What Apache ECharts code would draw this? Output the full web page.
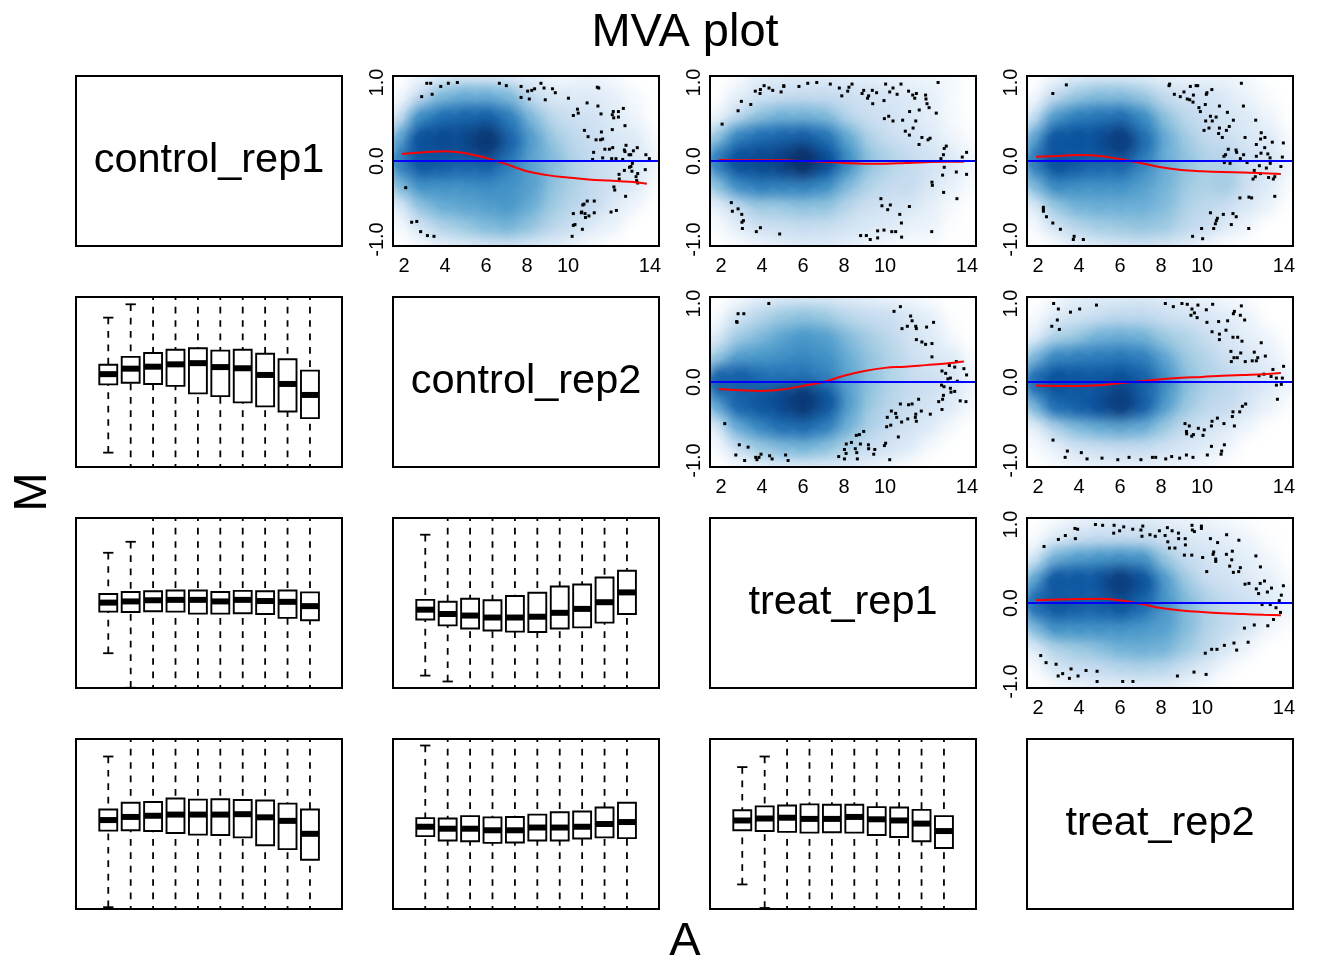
<!DOCTYPE html>
<html><head><meta charset="utf-8">
<style>html,body{margin:0;padding:0;background:#fff}#c{width:1344px;height:960px}</style>
<script src="https://cdn.jsdelivr.net/npm/echarts@6/dist/echarts.min.js"></script>
</head><body><div id="c"></div>
<script>
const sampleNames = ['control_rep1','control_rep2','treat_rep1','treat_rep2'];
const xTicks = [2,4,6,8,10,14];
const yTicks = [-1,0,1];
const densityA = [2,3,4,5,6,7,8,9,10,11,12,13,14];
const densityM = [1,0.75,0.5,0.25,0,-0.25,-0.5,-0.75,-1];
const curveA = [1.9,3,4,5,6,7,8,9,10,11,12,13,13.85];
const boxPositions = [1,2,3,4,5,6,7,8,9,10];
const blues = ['#FFFFFF','#DEEBF7','#C6DBEF','#9ECAE1','#6BAED6','#4292C6','#2171B5','#08519C','#08306B'];

// density levels (0..8), rows = densityM, columns = densityA
const density12 = [
[0,.5,1,1.2,1.2,1,.8,.5,.3,.6,.3,0,0],
[.3,2,3.5,4,4,3.5,2,1.2,1,1,.8,.3,0],
[1.5,5,6,6.3,6.5,5.5,3.5,2.2,1.7,1.5,1,.5,0],
[4,7,7.2,7.2,7.8,6.3,4.5,3,2.2,1.8,1.2,1,.2],
[5.5,6.8,6.5,6.3,6.5,5.5,4.2,3.5,2.5,2,1.5,1.2,.5],
[3.5,5,5,5,5.2,5,4.5,3.3,2.6,2,1.5,1,.2],
[1,3.2,4,4.3,4.5,4.8,4,3,2.3,2,1,.5,0],
[.3,1.5,2.5,3,3.5,3.8,3.2,2.3,1.8,1,.6,0,0],
[0,.3,.8,1,1.3,1.5,1.3,1,.6,.2,0,0,0]];
const density13 = [
[0,.2,.8,1,1,1,.8,.8,.7,.6,.5,.3,0],
[0,.8,1.5,1.8,2,2,1.8,1.5,1.3,1,.8,.2,0],
[.5,2,3.2,3.8,3.8,3.5,2.3,1.8,1.5,1.2,.8,.3,0],
[3,5.2,6,6.3,6.5,5.8,4,2.5,1.8,1.5,1,.5,.1],
[5.5,7,7.2,7.4,8,7,5,3.2,2.5,2,1.5,1,.4],
[3.2,5,5.6,5.5,5.5,5,3.5,2.5,2,2,1.2,.7,.2],
[.8,2,3,3,3.3,3.2,2.3,1.7,1.5,1.3,.8,.3,0],
[.2,.9,1.6,1.8,2,1.9,1.5,1.2,1,.7,.6,.1,0],
[0,.2,.5,.8,1,1,.8,.5,.3,.2,.2,0,0]];
const density14 = [
[0,.5,1,1.2,1.2,1,.8,.5,.6,.6,.3,0,0],
[.3,2,3,3.5,3.5,3,2,1.5,1.5,1,.6,.2,0],
[1.5,4.5,5.5,5.8,6,5,3.2,2.2,1.8,1.4,1,.5,0],
[4,6.8,7,7,7.6,6,4,2.8,2,1.7,1.2,1,.2],
[5.5,7,6.5,6.3,6.3,5.2,4,3.2,2.5,2.3,1.6,1.2,.5],
[3.5,5.2,5,5,5,4.5,3.8,3,2.5,2.8,1.6,1,.2],
[1,3,3.8,4,4,4,3.5,2.6,2.2,1.8,1.2,.6,0],
[.3,1.5,2.3,2.8,3,3.2,3,2.2,1.8,1,.5,0,0],
[0,.2,.8,1,1.3,1.5,1.4,1,.5,.1,0,0,0]];
const density23 = [
[0,.3,.8,1,1.2,1.2,1,.8,.6,.4,.2,0,0],
[.2,1.5,2.3,3,3.3,3,2.3,2,1.8,1.2,.8,.1,0],
[1,2.8,3.5,4.2,4.8,4.5,3.5,2.8,2.2,1.5,1,.3,0],
[3,4.5,4.8,5,5.3,5,4,3.2,2.5,1.8,1.3,1,.2],
[6.5,6.6,6,6,6,5.5,4.3,3.3,2.5,2,1.7,1.2,.5],
[4,6.3,6.8,7.2,7.8,6.8,4.5,3,2.3,1.8,1.4,1,.3],
[1,4,5.2,6,6.2,5.5,3.8,2.6,2,1.5,1,.3,0],
[.3,1.8,3,3.5,3.8,3.3,2.5,1.8,1.5,1,.3,0,0],
[0,.3,.7,1,1,1.2,1,.8,.4,.1,0,0,0]];
const density24 = [
[0,.3,.8,1,1,1.2,1,.7,.6,.4,.2,0,0],
[.2,1,1.5,1.8,2.2,2.2,1.8,1.5,1.3,.9,.6,0,0],
[.8,2.5,3,3.8,4,3.8,3,2.5,1.8,1.3,.8,.5,0],
[3.5,5.2,5.5,5.6,5.8,5.5,4.2,3,2.4,1.6,1.3,.8,.2],
[6,7,6.8,6.8,7,6.5,5,3.4,2.6,2.2,1.6,1,.5],
[3.5,6,6.5,7,7.6,6.5,4.5,3,2.2,2,1.2,.6,.1],
[.8,2.5,3.5,4,4.3,4,3,2,1.5,1,.5,0,0],
[.2,.8,1.5,1.8,2,2,1.6,1.3,.9,.5,0,0,0],
[0,.2,.5,.7,.8,.8,.6,.5,.3,.1,0,0,0]];
const density34 = [
[0,.2,.6,.8,1,1,.8,.6,.5,.3,.1,0,0],
[.2,1,1.6,2,2,2,1.6,1.2,1,.8,.5,.1,0],
[1.2,3.8,4.5,4.8,5,4.8,3,2,1.5,1.2,.8,.4,0],
[4,6.8,6.8,6.8,7.6,6.8,4.5,2.8,1.8,1.5,1,.7,.2],
[6,6.8,6.5,6.5,6.8,6,4.8,3.5,2.6,2,1.6,1,.5],
[3.5,5,5,5,5,4.8,4.5,3.5,2.5,2,1.2,.5,.1],
[1,2.5,3,3.3,3.8,4,3.8,3,2.2,1.2,.5,0,0],
[.2,1.2,1.8,2,2.3,2.5,2.3,1.6,1,.3,0,0,0],
[0,.2,.5,.8,.8,.8,.8,.5,.2,0,0,0,0]];

// outlying points [A, M]
const dots12 = [[2.86,.82],[3.11,.99],[3.3,.99],[3.37,.85],[3.79,.95],[4.16,.99],[4.6,1],[6.65,.99],[6.99,.96],[7.71,.95],[7.71,.81],[8.03,.89],[8.23,.9],[8.37,.92],[8.11,.79],[8.68,.99],[8.83,.93],[8.89,.78],[9.24,.92],[9.38,.87],[10.02,.8],[11.43,.94],[11.5,.93],[10.93,.74],[10.46,.66],[10.5,.61],[10.26,.58],[11.46,.7],[11.61,.6],[12.7,.67],[12.46,.63],[12.21,.63],[12.16,.59],[12.23,.55],[12.46,.56],[12.78,.45],[12.16,.4],[10.8,.39],[10.98,.31],[11.63,.37],[11.37,.27],[11.59,.27],[11.69,.28],[12.83,.2],[12.75,.14],[12.78,.12],[11.8,.15],[12.02,.15],[12.18,.17],[11.25,.11],[11.2,.02],[11.69,.04],[12.13,.03],[12.34,.03],[12.67,.02],[12.98,.08],[13.19,.13],[13.38,.17],[13.06,.08],[13.8,.08],[13.97,.03],[13.14,-.03],[13.07,-.07],[12.75,-.12],[13,-.08],[13.77,-.11],[13.12,-.13],[12.49,-.17],[13.4,-.16],[12.5,-.23],[13.32,-.2],[13.35,-.25],[13.4,-.28],[12.24,-.33],[12.28,-.37],[12.81,-.45],[2.08,-.34],[2.37,-.78],[2.62,-.77],[2.81,-.9],[3.14,-.95],[3.46,-.96],[10.2,-.96],[10.26,-.82],[10.34,-.81],[10.26,-.67],[10.67,-.65],[10.72,-.56],[10.78,-.55],[10.94,-.51],[11.28,-.51],[10.65,-.66],[10.83,-.67],[10.85,-.72],[11.02,-.7],[11.28,-.66],[12.1,-.65],[12.36,-.63],[10.7,-.87]];
const dots13 = [[2.05,.47],[2.83,.64],[2.99,.76],[3.45,.72],[3.67,.89],[3.9,.86],[4.1,.96],[3.92,.91],[4.34,.93],[4.52,.9],[4.93,.88],[5.06,.96],[5.06,.95],[5.8,.95],[6.23,.99],[6.67,1],[7.33,.98],[7.77,.93],[7.89,.83],[8.18,.89],[8.24,.94],[8.39,.98],[8.88,.86],[8.96,.9],[9.2,.83],[9.15,.8],[9.38,.9],[9.59,.87],[9.4,.73],[9.95,.77],[10.03,.98],[10.23,.88],[10.39,.93],[10.59,.85],[10.78,.98],[11.15,.89],[11.35,.84],[11.45,.8],[11.53,.86],[11.98,.84],[12,.79],[12.05,.73],[12.15,.68],[12.59,1],[11.67,.65],[11.2,.63],[12.5,.61],[9.97,.54],[10.18,.57],[10.39,.51],[10.86,.52],[11.5,.51],[11.37,.42],[10.99,.38],[11.19,.33],[11.8,.3],[12.1,.27],[12.2,.29],[11.66,.21],[12.99,.19],[12.89,.16],[13.98,.11],[12.85,.08],[12.73,.03],[13.77,.05],[12.89,-.08],[12.81,-.18],[13.48,-.14],[13.98,-.17],[12.29,-.27],[12.31,-.31],[12.86,-.4],[13.51,-.48],[2.5,-.53],[2.55,-.64],[2.83,-.61],[3.01,-.68],[3.02,-.78],[3.09,-.76],[3.04,-.86],[3.72,-.9],[3.92,-.85],[4.86,-.93],[9.8,-.48],[9.85,-.57],[10.13,-.62],[10.26,-.56],[11.19,-.58],[10.72,-.68],[10.8,-.79],[8.81,-.95],[9.09,-.95],[9.28,-1],[9.64,-.98],[9.64,-.89],[9.95,-.88],[10.33,-.9],[10.52,-.9],[10.81,-.97],[12.28,-.9]];
const dots14 = [[3.38,.97],[2.72,.86],[8.42,.98],[8.39,.96],[8.65,.85],[8.94,.82],[9.12,.88],[9.28,.79],[9.43,.95],[9.71,.96],[9.79,.96],[9.58,.84],[9.4,.78],[9.56,.75],[10.21,.85],[10.24,.87],[10.48,.91],[11.92,.99],[10.16,.72],[9.85,.68],[9.92,.63],[10.85,.7],[12.02,.7],[11.24,.62],[10.41,.57],[10.69,.56],[10.18,.51],[10.5,.51],[10.34,.42],[10.1,.39],[10.85,.42],[10.81,.35],[10.99,.3],[11.19,.39],[11.33,.44],[11.53,.52],[12.62,.52],[12.89,.36],[12.86,.28],[13.07,.3],[12.1,.3],[13.43,.24],[13.97,.23],[12.65,.21],[13.06,.17],[11.28,.15],[11.66,.14],[11.69,.11],[12.03,.08],[11.87,.03],[11.15,.08],[11.07,.06],[11.09,-.02],[11.37,-.03],[12.2,-.02],[12.65,.06],[12.88,.1],[13.21,.09],[13.32,.04],[13.92,.05],[13.33,-.03],[12.8,-.06],[13.14,-.09],[13.85,-.07],[12.55,-.12],[12.85,-.16],[12.6,-.2],[12.49,-.23],[13.25,-.21],[13.48,-.23],[13.55,-.2],[11.85,-.47],[12.29,-.46],[12.42,-.47],[13.55,-.45],[12.28,-.86],[2.26,-.59],[2.26,-.62],[2.26,-.64],[2.41,-.71],[2.72,-.79],[3.09,-.87],[3.76,-.96],[3.72,-1],[4.21,-1],[10.41,-.66],[10.75,-.73],[10.7,-.76],[10.65,-.8],[10.57,-.86],[9.98,-.86],[9.54,-.96],[10.03,-.99],[11.04,-.68],[11.51,-.67],[11.67,-.71],[11.43,-.81]];
const dots23 = [[4.33,1],[2.83,.87],[3.11,.87],[2.76,.77],[2.78,.76],[2.18,-.53],[2.89,-.8],[3.32,-.83],[2.72,-.93],[3.15,-1],[3.69,-.96],[3.85,-.96],[3.75,-.99],[3.95,-.92],[4.37,-.94],[4.49,-.98],[5.15,-.93],[5.27,-1],[7.74,-.95],[8.02,-.98],[8.1,-.91],[8.02,-.86],[8.11,-.79],[8.36,-.77],[8.55,-.85],[8.62,-.9],[8.65,-.98],[8.8,-.79],[9.19,-.8],[9.2,-.85],[9.5,-.86],[9.45,-.92],[8.6,-.68],[8.75,-.67],[8.96,-.63],[9.97,-.81],[10.03,-.78],[10.23,-.99],[10.65,-.7],[10.08,-.57],[10.28,-.55],[10.11,-.45],[10.31,-.37],[10.52,-.4],[10.57,-.45],[10.81,-.51],[11.11,-.47],[11.5,-.41],[11.48,-.45],[11.53,-.5],[11.77,-.37],[12.21,-.41],[10.75,-.28],[11.15,-.29],[11.32,-.28],[11.64,-.22],[12.62,-.25],[12.78,-.35],[12.81,-.22],[12.85,-.17],[12.76,-.04],[12.88,-.06],[13.19,-.08],[13.22,-.13],[13.4,-.12],[13.67,-.24],[13.95,-.25],[13.98,.09],[13.85,.17],[13.4,.19],[13.48,.26],[13.14,.21],[12.78,.14],[12.96,.11],[13.07,.04],[13.19,.05],[13.53,.01],[12.29,.32],[12.29,.49],[11.98,.48],[11.8,.51],[11.53,.54],[12.37,.76],[12.03,.7],[11.5,.71],[11.53,.68],[11.32,.78],[11.25,.84],[11.09,.71],[10.83,.68],[10.75,.96],[10.44,.9]];
const dots24 = [[2.76,1],[2.99,.93],[2.94,.79],[2.67,.71],[3.04,.67],[3.58,.89],[4.03,.93],[4.85,.98],[2.73,-.74],[3.43,-.88],[3.32,-.96],[4.11,-.9],[4.39,-.98],[5.12,-.97],[5.89,-.99],[6.44,-.96],[7.02,-.99],[7.58,-.96],[7.74,-.96],[8.23,-.98],[8.52,-.95],[8.91,-.97],[9.24,-.93],[9.56,-.96],[10.26,-.93],[10.46,-.82],[10.93,-.92],[10.96,-.88],[11.09,-.8],[8.21,1],[8.6,.96],[9.02,1],[9.28,.99],[9.8,.98],[9.51,.93],[9.63,.88],[9.46,.85],[9.76,.82],[10.21,.92],[10.52,.99],[10.24,.76],[10.81,.77],[11.25,.78],[11.58,.9],[11.53,.87],[11.92,.97],[11.87,.85],[12.08,.79],[11.17,.66],[10.49,.64],[10.85,.61],[10.85,.54],[11.51,.57],[11.74,.57],[11.95,.52],[12.89,.5],[11.41,.39],[11.89,.37],[11.72,.31],[11.56,.31],[11.43,.26],[12.11,.26],[12.45,.27],[12.55,.38],[12.72,.31],[12.65,.27],[13.09,.33],[13.98,.2],[13.46,.16],[12.78,.08],[13.02,.1],[13.37,.07],[13.63,.05],[13.92,.05],[13.63,-.04],[13.87,-.03],[13.68,-.22],[12.13,-.28],[11.97,-.31],[11.84,-.38],[11.51,-.38],[11.48,-.44],[11.58,-.56],[11.07,-.53],[10.75,-.46],[10.49,-.5],[10.46,-.56],[10.11,-.61],[10.05,-.68],[9.82,-.59],[9.58,-.67],[9.5,-.69],[9.38,-.56],[9.17,-.53],[9.24,-.63],[9.25,-.66]];
const dots34 = [[2.29,.72],[2.99,.81],[3.33,.86],[3.82,.82],[3.8,.95],[3.93,.94],[4.8,1],[5.15,.99],[5.71,.99],[5.69,.89],[5.98,.92],[6.18,.97],[6.62,.94],[7.11,.98],[7.02,.93],[7.07,.85],[7.46,.87],[7.72,.85],[7.92,.92],[8.2,.86],[8.31,.96],[8.54,.92],[8.85,.89],[8.86,.82],[8.33,.78],[8.41,.7],[8.68,.7],[9.18,.82],[9.19,.74],[9.14,.61],[9.5,.61],[9.51,.99],[9.53,.93],[9.63,.91],[9.97,.98],[9.97,.95],[10.41,.82],[10.76,.77],[11.2,.87],[11.8,.8],[10.57,.65],[10.54,.62],[10.67,.56],[10.67,.53],[11.19,.62],[11.48,.66],[11.45,.55],[10.03,.58],[10.23,.4],[11.35,.47],[11.87,.45],[11.53,.39],[11.79,.4],[12.63,.6],[12.85,.46],[12.1,.24],[12.29,.25],[12.84,.25],[13.05,.28],[13.39,.19],[13.97,.22],[12.65,.18],[13.19,.14],[12.76,.12],[13.87,.1],[13.77,.03],[12.93,-.02],[13.33,-.02],[13.61,-.06],[13.83,-.12],[13.49,-.21],[13.21,-.29],[12.55,-.28],[12.07,-.32],[12.25,-.5],[11.56,-.51],[11.69,-.6],[11.09,-.54],[10.73,-.59],[10.47,-.59],[10.16,-.64],[10.2,-.91],[9.61,-.88],[8.8,-.93],[2.13,-.67],[2.39,-.76],[2.88,-.78],[2.98,-.93],[3.2,-.9],[3.61,-.84],[3.53,-.96],[3.95,-.93],[4.34,-.86],[4.88,-.87],[4.88,-1],[6.13,-1],[6.63,-1]];

// loess curve M values at curveA
const curve12 = [.09,.11,.125,.1,.04,-.04,-.13,-.18,-.21,-.235,-.25,-.265,-.29];
const curve13 = [.012,.01,.01,.01,0,-.01,-.025,-.035,-.035,-.025,-.015,-.01,-.01];
const curve14 = [.055,.065,.075,.065,.025,-.025,-.08,-.115,-.13,-.14,-.145,-.155,-.165];
const curve23 = [-.09,-.105,-.115,-.095,-.05,0,.08,.14,.18,.195,.215,.235,.26];
const curve24 = [-.045,-.05,-.05,-.04,-.015,.01,.035,.055,.065,.08,.09,.1,.115];
const curve34 = [.035,.045,.05,.055,.035,-.01,-.065,-.095,-.115,-.13,-.14,-.15,-.155];

// box stats [lower whisker, Q1, median, Q3, upper whisker]
const boxes21 = [[-.9,-.03,.1,.22,.82],[-1.3,-.01,.17,.32,.99],[-1.3,-.025,.195,.37,1.3],[-1.3,-.05,.225,.41,1.3],[-1.3,-.145,.24,.43,1.3],[-1.3,-.18,.19,.4,1.3],[-1.3,-.26,.175,.41,1.3],[-1.3,-.31,.09,.36,1.3],[-1.3,-.375,-.025,.29,1.3],[-1.3,-.46,-.165,.145,1.3]];
const boxes31 = [[-.64,-.11,.005,.115,.64],[-1.08,-.115,.02,.14,.78],[-1.3,-.105,.035,.15,1.3],[-1.3,-.11,.04,.16,1.3],[-1.3,-.135,.04,.16,1.3],[-1.3,-.135,.02,.14,1.3],[-1.3,-.13,.04,.155,1.3],[-1.3,-.14,.025,.15,1.3],[-1.3,-.19,.015,.16,1.3],[-1.3,-.22,-.04,.135,1.3]];
const boxes32 = [[-.925,-.21,-.085,.04,.87],[-1,-.285,-.14,.015,1.3],[-1.3,-.325,-.16,.055,1.3],[-1.3,-.35,-.185,.035,1.3],[-1.3,-.365,-.185,.09,1.3],[-1.3,-.37,-.175,.13,1.3],[-1.3,-.325,-.125,.21,1.3],[-1.3,-.31,-.075,.235,1.3],[-1.3,-.25,.01,.325,1.3],[-1.3,-.14,.135,.41,1.3]];
const boxes41 = [[-1.06,-.085,.05,.185,.86],[-1.3,-.08,.09,.27,1.3],[-1.3,-.09,.105,.28,1.3],[-1.3,-.115,.12,.325,1.3],[-1.3,-.135,.12,.31,1.3],[-1.3,-.14,.12,.315,1.3],[-1.3,-.17,.125,.305,1.3],[-1.3,-.27,.085,.3,1.3],[-1.3,-.32,.04,.26,1.3],[-1.3,-.455,-.125,.185,1.3]];
const boxes42 = [[-1.3,-.155,-.035,.075,1],[-1.3,-.21,-.06,.07,1.3],[-1.3,-.22,-.06,.1,1.3],[-1.3,-.24,-.08,.085,1.3],[-1.3,-.235,-.08,.09,1.3],[-1.3,-.21,-.045,.12,1.3],[-1.3,-.21,-.045,.15,1.3],[-1.3,-.185,-.035,.16,1.3],[-1.3,-.17,0,.21,1.3],[-1.3,-.18,.025,.27,1.3]];
const boxes43 = [[-.77,-.08,.045,.175,.725],[-1.07,-.09,.07,.225,.86],[-1.3,-.1,.08,.235,1.3],[-1.3,-.11,.065,.25,1.3],[-1.3,-.105,.065,.245,1.3],[-1.3,-.11,.09,.245,1.3],[-1.3,-.14,.06,.215,1.3],[-1.3,-.165,.045,.21,1.3],[-1.3,-.22,.005,.18,1.3],[-1.3,-.305,-.09,.1,1.3]];

const densityPanels = [[0,1,density12,dots12,curve12],[0,2,density13,dots13,curve13],[0,3,density14,dots14,curve14],[1,2,density23,dots23,curve23],[1,3,density24,dots24,curve24],[2,3,density34,dots34,curve34]];
const boxPanels = [[1,0,boxes21],[2,0,boxes31],[2,1,boxes32],[3,0,boxes41],[3,1,boxes42],[3,2,boxes43]];

const FONT = '"Liberation Sans", Arial, sans-serif';
const panelLeft = [76,393,710,1027], panelTop = [76,297,518,739], panelW = 266, panelH = 170;
const aMin = 1.46, aMax = 14.44, mMin = -1.083, mMax = 1.083, bMin = -0.44, bMax = 11.43;
const spriteRadius = 30;

function hexRgb(h){return [1,3,5].map(i=>parseInt(h.substr(i,2),16));}
function levelRgb(l){
  const i = Math.min(7,Math.floor(l)), f = l-i, a = hexRgb(blues[i]), b = hexRgb(blues[i+1]);
  return a.map((v,k)=>Math.round(v+(b[k]-v)*f));
}
function sprite(l){
  const c = levelRgb(l).join(',');
  return {type:'radial',x:.5,y:.5,r:.5,colorStops:[
    {offset:0,color:`rgba(${c},1)`},{offset:.3,color:`rgba(${c},.9)`},
    {offset:.5,color:`rgba(${c},.55)`},{offset:.75,color:`rgba(${c},.14)`},{offset:1,color:`rgba(${c},0)`}]};
}
function renderCell(params,api){
  const p=api.coord([api.value(0),api.value(1)]);
  return {type:'circle',shape:{cx:p[0],cy:p[1],r:spriteRadius},style:{fill:sprite(api.value(2))}};
}

const grids=[],xAxes=[],yAxes=[],series=[];
const gridIndex=(r,c)=>r*4+c;
for(let r=0;r<4;r++)for(let c=0;c<4;c++){
  const isDensity = c>r;
  grids.push({left:panelLeft[c],top:panelTop[r],width:panelW,height:panelH,show:true,z:20,
    backgroundColor:'transparent',borderColor:'#000',borderWidth:2});
  const base={gridIndex:gridIndex(r,c),type:'value',splitLine:{show:false},axisLine:{show:false},axisTick:{show:false}};
  xAxes.push(isDensity
    ? {...base,min:aMin,max:aMax,axisLabel:{customValues:xTicks,fontFamily:FONT,fontSize:20,color:'#000',margin:10}}
    : {...base,min:bMin,max:bMax,show:false});
  yAxes.push(isDensity
    ? {...base,min:mMin,max:mMax,axisLabel:{customValues:yTicks,rotate:90,fontFamily:FONT,fontSize:20,color:'#000',margin:6,formatter:v=>v.toFixed(1)}}
    : {...base,min:mMin,max:mMax,show:false});
}
densityPanels.forEach(([r,c,dens,dots,curve])=>{
  const g=gridIndex(r,c), cells=[];
  dens.forEach((row,i)=>row.forEach((l,j)=>{ if(l>0) cells.push([densityA[j],densityM[i],l]); }));
  cells.sort((a,b)=>a[2]-b[2]);
  series.push({type:'custom',xAxisIndex:g,yAxisIndex:g,silent:true,clip:true,z:2,renderItem:renderCell,
    encode:{x:0,y:1},data:cells});
  series.push({type:'scatter',xAxisIndex:g,yAxisIndex:g,silent:true,clip:true,symbol:'rect',symbolSize:3,z:3,
    itemStyle:{color:'#000',opacity:1},data:dots});
  series.push({type:'line',xAxisIndex:g,yAxisIndex:g,silent:true,symbol:'none',smooth:0.4,z:4,
    lineStyle:{color:'#FF0000',width:2},data:curveA.map((a,i)=>[a,curve[i]])});
  series.push({type:'line',xAxisIndex:g,yAxisIndex:g,silent:true,symbol:'none',z:5,
    lineStyle:{color:'#0000FF',width:2},data:[[aMin,0],[aMax,0]]});
});
function renderBox(params,api){
  const x=api.value(0), lo=api.value(1), q1=api.value(2), med=api.value(3), q3=api.value(4), hi=api.value(5);
  const px=api.coord([x,0])[0], w=api.size([0.8,0])[0], cap=api.size([0.46,0])[0];
  const Y=v=>api.coord([x,v])[1];
  const line=(x1,y1,x2,y2,lw,dash)=>({type:'line',shape:{x1,y1,x2,y2},
    style:{stroke:'#000',lineWidth:lw,lineDash:dash||null,fill:null}});
  const dash=[6.7,6.7];
  return {type:'group',children:[
    line(px,Y(hi),px,Y(q3),1.8,dash),
    line(px,Y(lo),px,Y(q1),1.8,dash),
    line(px-cap/2,Y(hi),px+cap/2,Y(hi),1.8),
    line(px-cap/2,Y(lo),px+cap/2,Y(lo),1.8),
    {type:'rect',shape:{x:px-w/2,y:Y(q3),width:w,height:Y(q1)-Y(q3)},style:{fill:'#fff',stroke:'#000',lineWidth:1.9}},
    line(px-w/2,Y(med),px+w/2,Y(med),6)
  ]};
}
boxPanels.forEach(([r,c,stats])=>{
  const g=gridIndex(r,c);
  series.push({type:'custom',xAxisIndex:g,yAxisIndex:g,silent:true,clip:true,z:3,renderItem:renderBox,
    encode:{x:0,y:[1,2,3,4,5]},data:stats.map((s,i)=>[boxPositions[i],...s])});
});
const texts=[{t:'MVA plot',x:685,y:33,s:47}, {t:'A',x:685,y:942,s:47}, {t:'M',x:33,y:492,s:47,rot:Math.PI/2}];
for(let i=0;i<4;i++) texts.push({t:sampleNames[i],x:panelLeft[i]+panelW/2,y:panelTop[i]+panelH/2,s:41.5});
const chart=echarts.init(document.getElementById('c'),null,{width:1344,height:960,renderer:'canvas'});
chart.setOption({animation:false,backgroundColor:'#fff',grid:grids,xAxis:xAxes,yAxis:yAxes,series,
  graphic:texts.map(t=>({type:'text',x:t.x,y:t.y,rotation:t.rot||0,z:30,
    style:{text:t.t,fontFamily:FONT,fontSize:t.s,fill:'#000',align:'center',verticalAlign:'middle'}}))});
</script></body></html>
